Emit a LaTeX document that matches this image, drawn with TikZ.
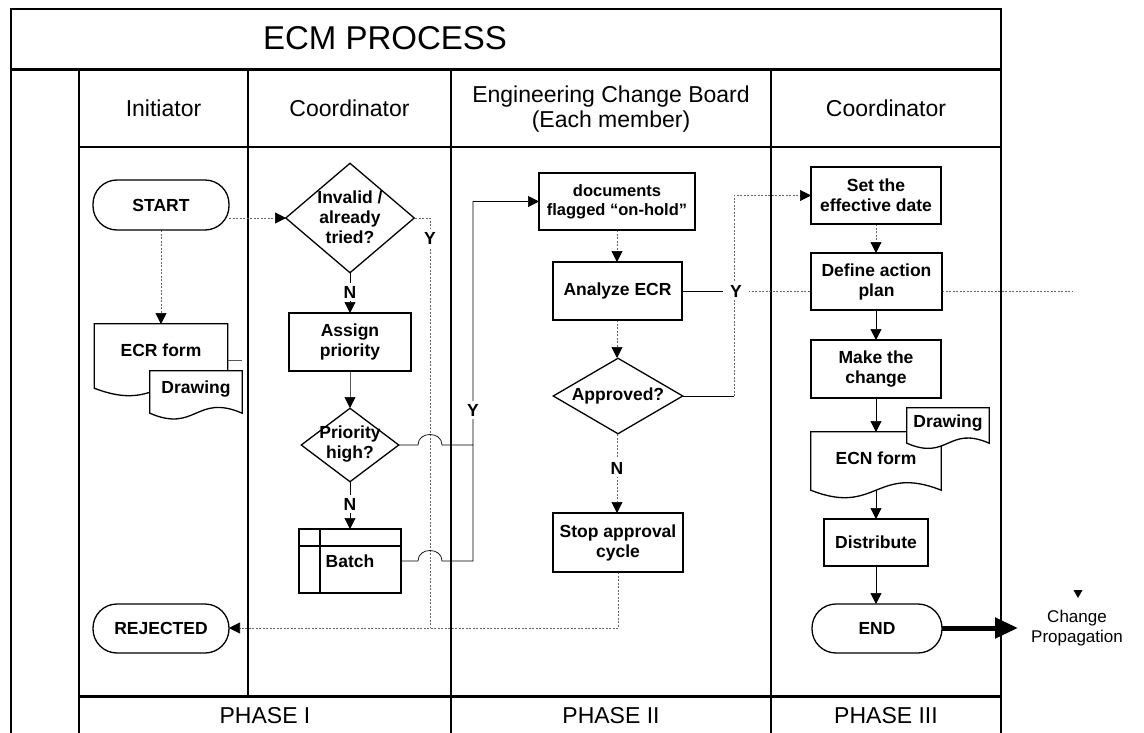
\documentclass[tikz,border=0pt]{standalone}
\usepackage{fontspec}
\setmainfont{Liberation Sans}
\usetikzlibrary{shapes.geometric,arrows.meta,calc}
\newcommand\ndfont{\fontsize{17.5}{20}\selectfont\bfseries}
\newcommand\hdfont{\fontsize{23}{25}\selectfont}
\newcommand\docpath[2]{%
  \draw[shp] (#1.north west) -- (#1.north east) -- (#1.south east)
    .. controls ($(#1.south)+(0,-#2)$) and ($(#1.south)+(0,#2)$) .. (#1.south west) -- cycle;}
\begin{document}
\begin{tikzpicture}[x=1pt,y=-1pt,
  >={Triangle[length=11pt,width=11pt,color=black]},
  lane/.style={line width=1.4pt},
  thicklane/.style={line width=3pt},
  shp/.style={draw, line width=1.3pt, fill=white, inner sep=0pt},
  box/.style 2 args={shp, rectangle, minimum width=#1, minimum height=#2, font=\ndfont, align=center},
  stad/.style 2 args={shp, rectangle, rounded corners=24pt, minimum width=#1, minimum height=#2, font=\ndfont},
  dia/.style 2 args={shp, diamond, minimum width=#1, minimum height=#2},
  doc/.style 2 args={rectangle, inner sep=0pt, minimum width=#1, minimum height=#2},
  txt/.style={font=\ndfont, align=center, inner sep=0pt},
  hdr/.style={font=\hdfont, align=center, inner sep=0pt},
  lbl/.style={font=\ndfont, fill=white, inner sep=3pt},
  conn/.style={draw=black, line width=0.7pt},
  fconn/.style={draw=black!60, line width=0.7pt, dash pattern=on 2pt off 1.5pt},
  gconn/.style={draw=black!65, line width=0.7pt}
]
\useasboundingbox (0,0) rectangle (1144,733);
% frame and lanes
\draw[lane] (11,733) -- (11,9) -- (1001,9) -- (1001,733);
\draw[thicklane] (11,70) -- (1001,70);
\draw[lane] (79,70) -- (79,733);
\draw[lane] (79,147) -- (1001,147);
\draw[lane] (248,70) -- (248,696);
\draw[lane] (451,70) -- (451,733);
\draw[lane] (771,70) -- (771,733);
\draw[thicklane] (79,696) -- (1001,696);
% titles
\node[font=\fontsize{33}{36}\selectfont, inner sep=0pt] (title) at (385,38) {ECM PROCESS};
\node[hdr] (h1) at (163.5,108) {Initiator};
\node[hdr] (h2) at (349.5,108) {Coordinator};
\node[hdr] (h3) at (611,109.5) {Engineering Change Board\\(Each member)};
\node[hdr] (h4) at (886,108) {Coordinator};
\node[hdr] (p1) at (265,716) {PHASE I};
\node[hdr] (p2) at (611,716) {PHASE II};
\node[hdr] (p3) at (886,716) {PHASE III};

% ---- connectors (drawn first, under shapes) ----
\coordinate (jY) at (430,218);
\coordinate (jR) at (430,628);
\coordinate (stubE) at (1072,291);
% Initiator / Coordinator
\draw[fconn,->] (161,230) -- (161,324);
\draw[fconn,->] (229,218) -- (286,218);
\draw[conn,->] (350,273) -- (350,313);
\draw[gconn,->] (350,371) -- (350,408);
\draw[conn,->] (350,482) -- (350,529);
\draw[fconn] (415,218) -- (jY) -- (jR);
\draw[conn,->] (399,445) -- (418,445) .. controls (418,431) and (442,431) .. (442,445) -- (473,445)
   -- (473,201.5) -- (539,201.5);
\draw[conn] (401,561) -- (418,561) .. controls (418,547) and (442,547) .. (442,561) -- (473,561) -- (473,445);
\draw[gconn] (227,360) -- (242,360);
% ECB
\draw[fconn,->] (617,230) -- (617,262);
\draw[fconn,->] (617,320) -- (617,358);
\draw[fconn,->] (617,434) -- (617,513);
\draw[fconn,->] (618,572) -- (618,628) -- (229,628);
\draw[conn] (683,396) -- (734,396);
\draw[fconn,->] (734,396) -- (734,195.5) -- (811,195.5);
\draw[conn] (682,291) -- (734,291);
\draw[fconn] (734,291) -- (811,291);
% Phase III
\draw[fconn,->] (876,224) -- (876,253);
\draw[conn,->] (876,310) -- (876,340);
\draw[conn,->] (876,398) -- (876,432);
\draw[conn,->] (876,490) -- (876,519);
\draw[conn,->] (876,566) -- (876,604);
\draw[fconn] (942,291) -- (stubE);
\draw[line width=5pt, -{Triangle[length=23pt,width=20pt]}] (942,628) -- (1018,628);
\fill (1073.5,590) -- (1082.5,590) -- (1078,598) -- cycle;

% ---- shapes ----
\node[stad={136}{50}] (start) at (161,205) {START};
\node[doc={133}{64}] (ecr) at (161,356) {};
\docpath{ecr}{26}
\node[txt] (ecrT) at (161,350) {ECR form};
\node[doc={92}{42}] (drw1) at (196,392) {};
\docpath{drw1}{20}
\node[txt] (drw1T) at (196,389) {Drawing};
\node[stad={136}{49}] (rej) at (161,628.5) {REJECTED};

\node[dia={129}{110}] (inv) at (350,218) {};
\node[txt] (invT) at (350,217) {Invalid /\\already\\tried?};
\node[box={122}{58}] (assign) at (350,342) {Assign\\priority};
\node[dia={98}{74}] (prio) at (350,445) {};
\node[txt] (prioT) at (350,444) {Priority\\high?};
\node[box={102}{64}] (batch) at (350,561) {Batch};
\draw[line width=1.3pt] (299,546) -- (401,546) (320,529) -- (320,593);

\node[box={156}{57}, font=\fontsize{16.5}{19}\selectfont\bfseries] (docs) at (617,201.5) {documents\\flagged “on-hold”};
\node[box={129}{58}] (analyze) at (617.5,291) {Analyze ECR};
\node[dia={130}{76}] (appr) at (618,396) {};
\node[txt] (apprT) at (618,396) {Approved?};
\node[box={130}{59}] (stop) at (618,542.5) {Stop approval\\cycle};

\node[box={130}{57}] (setd) at (876,195.5) {Set the\\effective date};
\node[box={131}{57}] (defap) at (876.5,281.5) {Define action\\plan};
\node[box={130}{58}] (make) at (876,369) {Make the\\change};
\node[doc={130}{58}] (ecn) at (876,461) {};
\docpath{ecn}{26}
\node[txt] (ecnT) at (876,458) {ECN form};
\node[doc={82}{35}] (drw2) at (948,425.5) {};
\docpath{drw2}{18}
\node[txt] (drw2T) at (948,423) {Drawing};
\node[box={104}{47}] (dist) at (876,542.5) {Distribute};
\node[stad={130}{49}] (endn) at (877,628.5) {END};

% labels
\node[lbl] (n1) at (350,292) {N};
\node[lbl] (n2) at (350,504) {N};
\node[lbl] (y1) at (430,238) {Y};
\node[lbl] (y2) at (473,410) {Y};
\node[lbl, inner xsep=7pt] (y3) at (736,291) {Y};
\node[lbl] (n3) at (617,468) {N};
\node[font=\fontsize{17}{20}\selectfont, align=center, inner sep=0pt] (prop) at (1077,628) {Change\\Propagation};
\end{tikzpicture}
\end{document}
